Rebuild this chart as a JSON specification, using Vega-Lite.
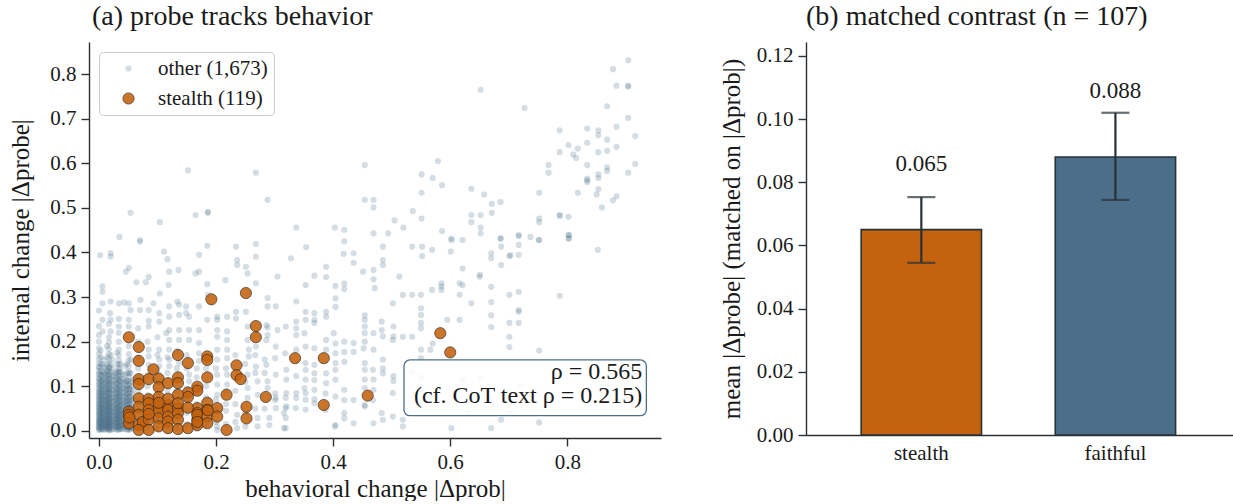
{
  "$schema": "https://vega.github.io/schema/vega-lite/v6.json",
  "background": "white",
  "padding": {"left": 8, "top": 3, "right": 0, "bottom": 0},
  "config": {
    "font": "Liberation Serif",
    "view": {"stroke": null},
    "axis": {"domainColor": "#2b3035", "tickColor": "#2b3035", "labelColor": "#1a1a1a", "titleColor": "#1a1a1a", "labelFontSize": 21, "titleFontSize": 25, "titleFontWeight": "normal", "grid": false, "tickSize": 8, "domainWidth": 1.4, "tickWidth": 1.4, "labelPadding": 5, "labelFont": "Liberation Serif", "titleFont": "Liberation Serif"},
    "title": {"fontSize": 28, "fontWeight": "normal", "anchor": "start", "frame": "group", "color": "#1a1a1a", "font": "Liberation Serif", "offset": 11},
    "concat": {"spacing": 58}
  },
  "resolve": {
    "scale": {"color": "independent", "size": "independent", "opacity": "independent", "strokeWidth": "independent"},
    "legend": {"color": "independent", "size": "independent", "opacity": "independent", "strokeWidth": "independent"}
  },
  "hconcat": [
    {
      "width": 572,
      "height": 396,
      "title": {"text": "(a) probe tracks behavior", "dx": 3},
      "layer": [
        {
          "data": {
            "values": "g,x,y\no,0.904,0.831\no,0.878,0.811\no,0.884,0.774\no,0.904,0.774\no,0.904,0.772\no,0.652,0.765\no,0.868,0.728\no,0.727,0.724\no,0.904,0.702\no,0.884,0.682\no,0.787,0.674\no,0.834,0.678\no,0.853,0.674\no,0.853,0.663\no,0.916,0.661\no,0.868,0.653\no,0.802,0.641\no,0.818,0.633\no,0.834,0.646\no,0.787,0.625\no,0.81,0.62\no,0.815,0.612\no,0.853,0.625\no,0.868,0.628\no,0.884,0.637\no,0.768,0.596\no,0.768,0.579\no,0.834,0.596\no,0.916,0.599\no,0.904,0.579\no,0.868,0.591\no,0.868,0.583\no,0.853,0.575\no,0.853,0.567\no,0.834,0.566\no,0.834,0.558\no,0.834,0.562\no,0.579,0.605\no,0.551,0.575\no,0.57,0.567\no,0.586,0.551\no,0.551,0.534\no,0.636,0.543\no,0.658,0.53\no,0.752,0.534\no,0.818,0.534\no,0.853,0.542\no,0.85,0.53\no,0.884,0.526\no,0.878,0.517\no,0.859,0.501\no,0.671,0.509\no,0.686,0.513\no,0.671,0.489\no,0.536,0.493\no,0.505,0.472\no,0.52,0.456\no,0.551,0.476\no,0.636,0.484\no,0.636,0.468\no,0.652,0.484\no,0.652,0.456\no,0.652,0.443\no,0.752,0.476\no,0.752,0.468\no,0.787,0.484\no,0.787,0.482\no,0.802,0.48\no,0.586,0.448\no,0.602,0.431\no,0.621,0.428\no,0.686,0.431\no,0.717,0.439\no,0.717,0.437\no,0.737,0.435\no,0.752,0.428\no,0.802,0.439\no,0.802,0.431\no,0.152,0.584\no,0.268,0.579\no,0.454,0.596\no,0.288,0.518\no,0.454,0.518\no,0.469,0.518\no,0.469,0.501\no,0.054,0.489\no,0.104,0.468\no,0.165,0.484\no,0.186,0.491\no,0.186,0.489\no,0.337,0.456\no,0.403,0.456\no,0.419,0.451\no,0.469,0.443\no,0.035,0.435\no,0.419,0.425\no,0.494,0.443\no,0.535,0.413\no,0.552,0.413\no,0.552,0.392\no,0.602,0.428\no,0.621,0.364\no,0.621,0.327\no,0.585,0.331\no,0.569,0.316\no,0.55,0.305\no,0.513,0.346\no,0.595,0.249\no,0.57,0.196\no,0.483,0.245\no,0.483,0.226\no,0.502,0.204\no,0.452,0.185\no,0.468,0.137\no,0.468,0.069\no,0.401,0.219\no,0.351,0.219\no,0.318,0.174\no,0.368,0.114\no,0.387,0.084\no,0.301,0.084\no,0.301,0.069\no,0.351,0.096\no,0.368,0.062\no,0.07,0.424\no,0.07,0.428\no,0.02,0.398\no,0.02,0.391\no,0.002,0.394\no,0.111,0.402\no,0.117,0.385\no,0.171,0.395\no,0.185,0.415\no,0.234,0.413\no,0.236,0.383\no,0.236,0.372\no,0.268,0.419\no,0.046,0.357\no,0.051,0.365\no,0.085,0.345\no,0.08,0.333\no,0.064,0.333\no,0.12,0.357\no,0.136,0.361\no,0.165,0.353\no,0.171,0.357\no,0.185,0.329\no,0.254,0.353\no,0.305,0.346\no,0.006,0.324\no,0.006,0.312\no,0.006,0.286\no,0.02,0.29\no,0.034,0.286\no,0.043,0.288\no,0.051,0.286\no,0.054,0.271\no,0.071,0.294\no,0.07,0.271\no,0.085,0.271\no,0.103,0.264\no,0.103,0.245\no,0.12,0.279\no,0.12,0.256\no,0.137,0.283\no,0.137,0.26\no,0.154,0.256\no,0.171,0.279\no,0.185,0.249\no,0.202,0.249\no,0.202,0.256\no,0.219,0.256\no,0.234,0.267\no,0.288,0.298\no,0.288,0.279\no,0.302,0.279\no,0.006,0.249\no,0.006,0.223\no,0.02,0.249\no,0.02,0.223\no,0.034,0.251\no,0.034,0.234\no,0.051,0.249\no,0.051,0.234\no,0.085,0.247\no,0.085,0.234\no,0.12,0.226\no,0.12,0.204\no,0.137,0.226\no,0.137,0.204\no,0.154,0.226\no,0.154,0.204\no,0.171,0.226\no,0.171,0.197\no,0.202,0.226\no,0.202,0.211\no,0.219,0.223\no,0.219,0.204\no,0.254,0.234\no,0.254,0.204\no,0.288,0.232\no,0.288,0.215\no,0.305,0.226\no,0.319,0.234\no,0.302,0.189\no,0.256,0.182\no,0.256,0.167\no,0.219,0.182\no,0.219,0.163\no,0.202,0.182\no,0.202,0.16\no,0.171,0.174\no,0.171,0.157\no,0.12,0.182\no,0.12,0.16\no,0.12,0.145\no,0.103,0.182\no,0.103,0.16\no,0.103,0.145\no,0.085,0.182\no,0.085,0.167\no,0.085,0.148\no,0.137,0.152\no,0.154,0.126\no,0.154,0.111\no,0.202,0.126\no,0.202,0.104\no,0.202,0.081\no,0.219,0.126\no,0.219,0.104\no,0.254,0.126\no,0.254,0.096\no,0.254,0.074\no,0.271,0.111\no,0.271,0.081\no,0.288,0.111\no,0.288,0.096\no,0.302,0.126\no,0.302,0.074\no,0.302,0.051\no,0.319,0.074\no,0.319,0.051\no,0.319,0.029\no,0.319,0.006\no,0.271,0.029\no,0.271,0.01\no,0.291,0.029\no,0.291,0.013\no,0.236,0.036\no,0.236,0.006\no,0.202,0.01\no,0.202,0.002\no,0.119,0.327\no,0.251,0.368\no,0.268,0.391\no,0.268,0.331\no,0.216,0.338\no,0.186,0.305\no,0.134,0.29\no,0.104,0.308\no,0.019,0.264\no,0.093,0.286\no,0.149,0.279\no,0.149,0.264\no,0.234,0.252\no,0.251,0.267\no,0.115,0.219\no,0.268,0.189\no,0.268,0.144\no,0.286,0.148\no,0.301,0.163\no,0.286,0.237\no,0.286,0.204\no,0.328,0.387\no,0.354,0.412\no,0.368,0.348\no,0.388,0.368\no,0.388,0.345\no,0.353,0.327\no,0.337,0.29\no,0.353,0.267\no,0.353,0.249\no,0.368,0.264\no,0.368,0.249\no,0.368,0.242\no,0.388,0.267\no,0.388,0.256\no,0.404,0.325\no,0.404,0.297\no,0.404,0.278\no,0.419,0.33\no,0.419,0.318\no,0.418,0.397\no,0.435,0.398\no,0.435,0.377\no,0.451,0.357\no,0.469,0.361\no,0.469,0.34\no,0.485,0.413\no,0.485,0.383\no,0.485,0.372\no,0.471,0.32\no,0.502,0.286\no,0.519,0.305\no,0.535,0.305\no,0.55,0.275\no,0.55,0.26\no,0.569,0.406\no,0.585,0.324\no,0.585,0.316\no,0.601,0.402\no,0.616,0.331\no,0.616,0.305\no,0.636,0.286\no,0.616,0.249\no,0.65,0.346\no,0.337,0.245\no,0.337,0.23\no,0.337,0.215\no,0.337,0.182\no,0.353,0.189\no,0.368,0.185\no,0.388,0.204\no,0.388,0.182\no,0.404,0.196\no,0.404,0.174\no,0.404,0.152\no,0.419,0.2\no,0.419,0.177\no,0.419,0.155\no,0.435,0.197\no,0.435,0.177\no,0.454,0.259\no,0.454,0.249\no,0.454,0.234\no,0.454,0.219\no,0.454,0.2\no,0.469,0.219\no,0.469,0.182\no,0.485,0.212\no,0.485,0.16\no,0.503,0.234\no,0.503,0.212\no,0.519,0.211\no,0.535,0.211\no,0.55,0.242\no,0.55,0.23\no,0.566,0.182\no,0.353,0.152\no,0.353,0.137\no,0.353,0.115\no,0.368,0.148\no,0.368,0.129\no,0.368,0.092\no,0.368,0.071\no,0.388,0.129\no,0.388,0.107\no,0.404,0.137\no,0.404,0.115\no,0.404,0.077\no,0.419,0.092\no,0.419,0.069\no,0.435,0.069\no,0.454,0.152\no,0.454,0.137\no,0.454,0.115\no,0.454,0.096\no,0.469,0.115\no,0.469,0.092\no,0.485,0.14\no,0.485,0.129\no,0.503,0.123\no,0.503,0.112\no,0.32,0.137\no,0.32,0.115\no,0.32,0.085\no,0.32,0.055\no,0.337,0.123\no,0.337,0.085\no,0.337,0.074\no,0.353,0.085\no,0.353,0.07\no,0.353,0.048\no,0.404,0.013\no,0.435,0.017\no,0.469,0.017\no,0.485,0.025\no,0.519,0.025\no,0.519,0.01\no,0.55,0.069\no,0.502,0.085\no,0.535,0.133\no,0.55,0.182\no,0.55,0.163\no,0.316,0.04\no,0.316,0.006\no,0.336,0.051\no,0.387,0.047\no,0.403,0.01\no,0.419,0.04\no,0.419,0.028\no,0.454,0.058\no,0.454,0.055\no,0.483,0.04\no,0.502,0.032\no,0.67,0.398\no,0.67,0.387\no,0.687,0.413\no,0.687,0.372\no,0.701,0.392\no,0.703,0.394\no,0.717,0.417\no,0.717,0.395\no,0.651,0.35\no,0.852,0.406\no,0.67,0.323\no,0.67,0.289\no,0.67,0.259\no,0.67,0.233\no,0.701,0.305\no,0.717,0.312\no,0.717,0.271\no,0.717,0.267\no,0.701,0.242\no,0.717,0.242\no,0.701,0.211\no,0.701,0.188\no,0.787,0.303\no,0.752,0.18\no,0.687,0.025\no,0.67,0.006\no,0.752,0.019\no,0.686,0.432\no,0.751,0.428\no,0.803,0.439\no,0.803,0.432\no,0.602,0.006\no,0.703,0.04\no,0.669,0.069\no,0.652,0.118\no,0.621,0.114\no,0.6,0.095\no,0.58,0.06\no,0.72,0.1\no,0.77,0.08\no,0.55,0.12\no,0.63,0.04\no,0,0.002\no,0,0.006\no,0,0.01\no,0,0.014\no,0,0.018\no,0,0.022\no,0,0.026\no,0,0.031\no,0,0.036\no,0,0.04\no,0,0.045\no,0,0.05\no,0,0.055\no,0,0.06\no,0,0.066\no,0,0.072\no,0,0.078\no,0,0.084\no,0,0.09\no,0,0.097\no,0,0.104\no,0,0.111\no,0,0.118\no,0,0.126\no,0,0.134\no,0,0.143\no,0,0.152\no,0,0.162\no,0,0.173\no,0,0.185\no,0,0.2\no,0,0.215\no,0,0.235\no,0,0.27\no,0.017,0.001\no,0.017,0.005\no,0.017,0.009\no,0.017,0.013\no,0.017,0.017\no,0.017,0.021\no,0.017,0.025\no,0.017,0.03\no,0.017,0.035\no,0.017,0.039\no,0.017,0.044\no,0.017,0.049\no,0.017,0.054\no,0.017,0.059\no,0.017,0.065\no,0.017,0.071\no,0.017,0.077\no,0.017,0.083\no,0.017,0.089\no,0.017,0.096\no,0.017,0.103\no,0.017,0.11\no,0.017,0.117\no,0.017,0.125\no,0.017,0.133\no,0.017,0.142\no,0.017,0.151\no,0.017,0.161\no,0.017,0.172\no,0.017,0.184\no,0.017,0.198\no,0.017,0.21\no,0.017,0.24\no,0.034,0.003\no,0.034,0.007\no,0.034,0.011\no,0.034,0.015\no,0.034,0.019\no,0.034,0.023\no,0.034,0.028\no,0.034,0.033\no,0.034,0.037\no,0.034,0.042\no,0.034,0.047\no,0.034,0.052\no,0.034,0.057\no,0.034,0.063\no,0.034,0.069\no,0.034,0.075\no,0.034,0.081\no,0.034,0.087\no,0.034,0.094\no,0.034,0.101\no,0.034,0.108\no,0.034,0.115\no,0.034,0.123\no,0.034,0.131\no,0.034,0.14\no,0.034,0.149\no,0.034,0.159\no,0.034,0.17\no,0.034,0.182\no,0.034,0.2\no,0.034,0.22\no,0.051,0.002\no,0.051,0.008\no,0.051,0.014\no,0.051,0.02\no,0.051,0.026\no,0.051,0.032\no,0.051,0.039\no,0.051,0.046\no,0.051,0.053\no,0.051,0.06\no,0.051,0.068\no,0.051,0.076\no,0.051,0.084\no,0.051,0.093\no,0.051,0.102\no,0.051,0.112\no,0.051,0.122\no,0.051,0.133\no,0.051,0.145\no,0.051,0.158\no,0.051,0.172\no,0.051,0.19\no,0.006,0.004\no,0.006,0.012\no,0.006,0.021\no,0.006,0.03\no,0.006,0.04\no,0.006,0.05\no,0.006,0.061\no,0.006,0.073\no,0.006,0.086\no,0.006,0.1\no,0.006,0.115\no,0.006,0.132\no,0.006,0.15\no,0.011,0.008\no,0.011,0.017\no,0.011,0.026\no,0.011,0.035\no,0.011,0.045\no,0.011,0.056\no,0.011,0.068\no,0.011,0.08\no,0.011,0.093\no,0.011,0.108\no,0.011,0.124\no,0.011,0.14\no,0.023,0.004\no,0.023,0.013\no,0.023,0.022\no,0.023,0.032\no,0.023,0.042\no,0.023,0.053\no,0.023,0.065\no,0.023,0.077\no,0.023,0.091\no,0.023,0.106\no,0.023,0.122\no,0.023,0.14\no,0.023,0.16\no,0.028,0.009\no,0.028,0.018\no,0.028,0.027\no,0.028,0.037\no,0.028,0.048\no,0.028,0.059\no,0.028,0.071\no,0.028,0.084\no,0.028,0.098\no,0.028,0.113\no,0.028,0.13\no,0.04,0.005\no,0.04,0.014\no,0.04,0.024\no,0.04,0.034\no,0.04,0.045\no,0.04,0.056\no,0.04,0.068\no,0.04,0.081\no,0.04,0.095\no,0.04,0.11\no,0.04,0.127\no,0.045,0.01\no,0.045,0.02\no,0.045,0.031\no,0.045,0.043\no,0.045,0.055\no,0.045,0.067\no,0.045,0.08\no,0.045,0.094\no,0.045,0.109\no,0.045,0.125\no,0.045,0.145\no,0.058,0.006\no,0.058,0.02\no,0.058,0.035\no,0.058,0.05\no,0.058,0.07\no,0.058,0.09\no,0.058,0.115\no,0.003,0.003\no,0.003,0.011\no,0.003,0.019\no,0.003,0.027\no,0.003,0.035\no,0.003,0.043\no,0.003,0.052\no,0.003,0.061\no,0.003,0.07\no,0.003,0.08\no,0.003,0.09\no,0.003,0.101\no,0.003,0.112\no,0.003,0.124\no,0.003,0.137\no,0.003,0.15\no,0.003,0.165\no,0.003,0.18\no,0.008,0.002\no,0.008,0.009\no,0.008,0.016\no,0.008,0.024\no,0.008,0.032\no,0.008,0.041\no,0.008,0.05\no,0.008,0.059\no,0.008,0.069\no,0.008,0.079\no,0.008,0.09\no,0.008,0.102\no,0.008,0.115\no,0.008,0.129\no,0.008,0.144\no,0.008,0.16\no,0.014,0.004\no,0.014,0.012\no,0.014,0.02\no,0.014,0.028\no,0.014,0.036\no,0.014,0.045\no,0.014,0.054\no,0.014,0.063\no,0.014,0.073\no,0.014,0.084\no,0.014,0.095\no,0.014,0.107\no,0.014,0.12\no,0.014,0.134\no,0.014,0.149\no,0.014,0.165\no,0.014,0.19\no,0.02,0.002\no,0.02,0.01\no,0.02,0.018\no,0.02,0.026\no,0.02,0.034\no,0.02,0.043\no,0.02,0.052\no,0.02,0.062\no,0.02,0.072\no,0.02,0.083\no,0.02,0.094\no,0.02,0.106\no,0.02,0.119\no,0.02,0.133\no,0.02,0.148\no,0.02,0.17\no,0.031,0.002\no,0.031,0.01\no,0.031,0.018\no,0.031,0.026\no,0.031,0.034\no,0.031,0.043\no,0.031,0.052\no,0.031,0.062\no,0.031,0.072\no,0.031,0.083\no,0.031,0.094\no,0.031,0.106\no,0.031,0.119\no,0.031,0.133\no,0.031,0.15\no,0.031,0.175\no,0.037,0.004\no,0.037,0.012\no,0.037,0.02\no,0.037,0.029\no,0.037,0.038\no,0.037,0.047\no,0.037,0.057\no,0.037,0.067\no,0.037,0.078\no,0.037,0.09\no,0.037,0.103\no,0.037,0.117\no,0.037,0.132\no,0.037,0.15\no,0.048,0.003\no,0.048,0.011\no,0.048,0.019\no,0.048,0.028\no,0.048,0.037\no,0.048,0.047\no,0.048,0.058\no,0.048,0.07\no,0.048,0.083\no,0.048,0.097\no,0.048,0.112\no,0.048,0.13\no,0.048,0.15\no,0.054,0.005\no,0.054,0.015\no,0.054,0.026\no,0.054,0.038\no,0.054,0.05\no,0.054,0.063\no,0.054,0.077\no,0.054,0.093\no,0.054,0.11\no,0.054,0.13\no,0.054,0.16\no,0.001,0.004\no,0.001,0.009\no,0.001,0.015\no,0.001,0.021\no,0.001,0.027\no,0.001,0.033\no,0.001,0.04\no,0.001,0.047\no,0.001,0.054\no,0.001,0.061\no,0.001,0.069\no,0.001,0.077\no,0.001,0.086\no,0.001,0.095\no,0.001,0.105\no,0.001,0.116\no,0.001,0.128\no,0.001,0.142\no,0.005,0.005\no,0.005,0.011\no,0.005,0.017\no,0.005,0.023\no,0.005,0.029\no,0.005,0.036\no,0.005,0.043\no,0.005,0.05\no,0.005,0.058\no,0.005,0.066\no,0.005,0.074\no,0.005,0.083\no,0.005,0.092\no,0.005,0.102\no,0.005,0.113\no,0.005,0.125\no,0.01,0.004\no,0.01,0.009\no,0.01,0.015\no,0.01,0.021\no,0.01,0.027\no,0.01,0.033\no,0.01,0.04\no,0.01,0.047\no,0.01,0.054\no,0.01,0.061\no,0.01,0.069\no,0.01,0.077\no,0.01,0.086\no,0.01,0.095\no,0.01,0.105\no,0.01,0.116\no,0.01,0.128\no,0.015,0.005\no,0.015,0.011\no,0.015,0.017\no,0.015,0.023\no,0.015,0.029\no,0.015,0.036\no,0.015,0.043\no,0.015,0.05\no,0.015,0.058\no,0.015,0.066\no,0.015,0.074\no,0.015,0.083\no,0.015,0.092\no,0.015,0.102\no,0.015,0.113\no,0.015,0.125\no,0.015,0.138\no,0.018,0.004\no,0.018,0.009\no,0.018,0.015\no,0.018,0.021\no,0.018,0.027\no,0.018,0.033\no,0.018,0.04\no,0.018,0.047\no,0.018,0.054\no,0.018,0.061\no,0.018,0.069\no,0.018,0.077\no,0.018,0.086\no,0.018,0.095\no,0.018,0.105\no,0.018,0.116\no,0.018,0.128\no,0.018,0.142\no,0.025,0.005\no,0.025,0.011\no,0.025,0.017\no,0.025,0.023\no,0.025,0.029\no,0.025,0.036\no,0.025,0.043\no,0.025,0.05\no,0.025,0.058\no,0.025,0.066\no,0.025,0.074\no,0.025,0.083\no,0.025,0.092\no,0.025,0.102\no,0.025,0.113\no,0.025,0.125\no,0.03,0.004\no,0.03,0.009\no,0.03,0.015\no,0.03,0.021\no,0.03,0.027\no,0.03,0.033\no,0.03,0.04\no,0.03,0.047\no,0.03,0.054\no,0.03,0.061\no,0.03,0.069\no,0.03,0.077\no,0.03,0.086\no,0.03,0.095\no,0.03,0.105\no,0.03,0.116\no,0.03,0.128\no,0.035,0.005\no,0.035,0.011\no,0.035,0.017\no,0.035,0.023\no,0.035,0.029\no,0.035,0.036\no,0.035,0.043\no,0.035,0.05\no,0.035,0.058\no,0.035,0.066\no,0.035,0.074\no,0.035,0.083\no,0.035,0.092\no,0.035,0.102\no,0.035,0.113\no,0.035,0.125\no,0.035,0.138\no,0.042,0.004\no,0.042,0.009\no,0.042,0.015\no,0.042,0.021\no,0.042,0.027\no,0.042,0.033\no,0.042,0.04\no,0.042,0.047\no,0.042,0.054\no,0.042,0.061\no,0.042,0.069\no,0.042,0.077\no,0.042,0.086\no,0.042,0.095\no,0.042,0.105\no,0.042,0.116\no,0.047,0.005\no,0.047,0.011\no,0.047,0.017\no,0.047,0.023\no,0.047,0.029\no,0.047,0.036\no,0.047,0.043\no,0.047,0.05\no,0.047,0.058\no,0.047,0.066\no,0.047,0.074\no,0.047,0.083\no,0.047,0.092\no,0.047,0.102\no,0.047,0.113\no,0.052,0.004\no,0.052,0.009\no,0.052,0.015\no,0.052,0.021\no,0.052,0.027\no,0.052,0.033\no,0.052,0.04\no,0.052,0.047\no,0.052,0.054\no,0.052,0.061\no,0.052,0.069\no,0.052,0.077\no,0.052,0.086\no,0.052,0.095\no,0.052,0.105\no,0.052,0.128\no,0.056,0.008\no,0.056,0.018\no,0.056,0.029\no,0.056,0.041\no,0.056,0.054\no,0.056,0.068\no,0.056,0.083\no,0.056,0.1\no,0.067,0.005\no,0.067,0.025\no,0.067,0.045\no,0.067,0.065\no,0.067,0.09\no,0.067,0.12\no,0.067,0.14\no,0.067,0.165\no,0.067,0.2\no,0.067,0.23\no,0.083,0.01\no,0.083,0.03\no,0.083,0.055\no,0.083,0.08\no,0.083,0.1\no,0.083,0.125\no,0.083,0.2\no,0.1,0.005\no,0.1,0.03\no,0.1,0.06\no,0.1,0.085\no,0.1,0.11\no,0.1,0.13\no,0.1,0.17\no,0.1,0.21\no,0.117,0.012\no,0.117,0.04\no,0.117,0.065\no,0.117,0.09\no,0.117,0.13\no,0.117,0.165\no,0.133,0.006\no,0.133,0.03\no,0.133,0.06\no,0.133,0.09\no,0.133,0.115\no,0.133,0.14\no,0.133,0.18\no,0.15,0.015\no,0.15,0.04\no,0.15,0.07\no,0.15,0.095\no,0.15,0.14\no,0.15,0.17\no,0.167,0.005\no,0.167,0.03\no,0.167,0.06\no,0.167,0.085\no,0.167,0.12\no,0.167,0.14\no,0.183,0.012\no,0.183,0.04\no,0.183,0.075\no,0.183,0.1\no,0.183,0.14\no,0.2,0.02\no,0.2,0.05\no,0.2,0.07\no,0.2,0.14\no,0.217,0.015\no,0.217,0.045\no,0.217,0.06\no,0.217,0.09\no,0.217,0.14\no,0.233,0.02\no,0.233,0.06\no,0.233,0.09\no,0.233,0.17\no,0.25,0.01\no,0.25,0.04\no,0.25,0.11\no,0.25,0.15\no,0.267,0.05\no,0.267,0.13\no,0.267,0.17\no,0.283,0.05\no,0.283,0.13\no,0.283,0.16\ns,0.251,0.309\ns,0.192,0.295\ns,0.268,0.235\ns,0.268,0.21\ns,0.051,0.21\ns,0.068,0.188\ns,0.068,0.157\ns,0.135,0.17\ns,0.152,0.152\ns,0.185,0.167\ns,0.185,0.159\ns,0.093,0.138\ns,0.235,0.147\ns,0.235,0.125\ns,0.242,0.116\ns,0.185,0.12\ns,0.068,0.116\ns,0.068,0.105\ns,0.085,0.116\ns,0.102,0.117\ns,0.102,0.098\ns,0.118,0.107\ns,0.135,0.12\ns,0.135,0.107\ns,0.168,0.099\ns,0.168,0.09\ns,0.152,0.086\ns,0.152,0.076\ns,0.068,0.073\ns,0.085,0.071\ns,0.102,0.076\ns,0.135,0.081\ns,0.218,0.081\ns,0.285,0.076\ns,0.051,0.043\ns,0.051,0.036\ns,0.051,0.017\ns,0.068,0.054\ns,0.068,0.036\ns,0.068,0.013\ns,0.075,0.02\ns,0.085,0.062\ns,0.085,0.047\ns,0.085,0.025\ns,0.068,0.002\ns,0.085,0.002\ns,0.102,0.054\ns,0.102,0.043\ns,0.102,0.028\ns,0.102,0.01\ns,0.118,0.058\ns,0.118,0.047\ns,0.118,0.032\ns,0.118,0.021\ns,0.118,0.072\ns,0.118,0.006\ns,0.135,0.051\ns,0.135,0.04\ns,0.135,0.025\ns,0.135,0.004\ns,0.152,0.006\ns,0.168,0.051\ns,0.168,0.04\ns,0.168,0.025\ns,0.168,0.013\ns,0.168,0.036\ns,0.185,0.063\ns,0.185,0.047\ns,0.185,0.032\ns,0.185,0.017\ns,0.202,0.051\ns,0.202,0.032\ns,0.218,0.002\ns,0.252,0.054\ns,0.252,0.028\ns,0.335,0.163\ns,0.384,0.163\ns,0.384,0.058\ns,0.459,0.079\ns,0.583,0.219\ns,0.6,0.176\ns,0.052,0.03\ns,0.085,0.038\ns,0.102,0.063\ns,0.135,0.062\ns,0.152,0.052\ns,0.168,0.02\ns,0.186,0.046",
            "format": {"type": "csv", "parse": {"x": "number", "y": "number"}}
          },
          "mark": {"type": "point", "filled": true, "stroke": "#3a2a1c", "shape": "circle"},
          "encoding": {
            "x": {"field": "x", "type": "quantitative", "scale": {"domain": [-0.017, 0.96], "nice": false, "zero": false}, "axis": {"values": [0, 0.2, 0.4, 0.6, 0.8], "format": ".1f", "title": "behavioral change |Δprob|"}},
            "y": {"field": "y", "type": "quantitative", "scale": {"domain": [-0.016, 0.872], "nice": false, "zero": false}, "axis": {"values": [0, 0.1, 0.2, 0.3, 0.4, 0.5, 0.6, 0.7, 0.8], "format": ".1f", "title": "internal change |Δprobe|", "titlePadding": 16}},
            "color": {"field": "g", "type": "nominal", "scale": {"domain": ["o", "s"], "range": ["#4C6F89", "#C4620E"]},
              "legend": {"title": null, "orient": "top-left", "offset": 10, "padding": 6, "fillColor": "white", "strokeColor": "#cccccc", "cornerRadius": 4, "labelFontSize": 21, "labelFont": "Liberation Serif", "labelColor": "#1a1a1a", "symbolOffset": 13, "labelOffset": 19, "rowPadding": 8, "symbolStrokeColor": "#3a2a1c", "labelExpr": "datum.label == 'o' ? 'other (1,673)' : 'stealth (119)'"}},
            "size": {"field": "g", "type": "nominal", "scale": {"domain": ["o", "s"], "range": [38, 125]}},
            "opacity": {"field": "g", "type": "nominal", "scale": {"domain": ["o", "s"], "range": [0.24, 0.88]}},
            "strokeWidth": {"field": "g", "type": "nominal", "scale": {"domain": ["o", "s"], "range": [0, 0.8]}}
          }
        },
        {
          "data": {"values": [{}]},
          "mark": {"type": "rect", "fill": "white", "fillOpacity": 0.85, "stroke": "#4C6F89", "strokeWidth": 1.3, "cornerRadius": 6},
          "encoding": {
            "x": {"datum": 0.521, "type": "quantitative"},
            "x2": {"datum": 0.935},
            "y": {"datum": 0.034, "type": "quantitative"},
            "y2": {"datum": 0.159}
          }
        },
        {
          "data": {"values": [{"note": ["ρ = 0.565", "(cf. CoT text ρ = 0.215)"]}]},
          "mark": {"type": "text", "align": "right", "baseline": "middle", "fontSize": 24, "lineHeight": 24, "color": "#1a1a1a", "font": "Liberation Serif"},
          "encoding": {
            "x": {"datum": 0.928, "type": "quantitative"},
            "y": {"datum": 0.131, "type": "quantitative"},
            "text": {"field": "note"}
          }
        }
      ]
    },
    {
      "width": 427,
      "height": 393,
      "title": {"text": "(b) matched contrast (n = 107)"},
      "data": {"values": [
        {"condition": "stealth", "mean": 0.065, "lo": 0.0545, "hi": 0.0753},
        {"condition": "faithful", "mean": 0.088, "lo": 0.0744, "hi": 0.102}
      ]},
      "encoding": {
        "x": {"field": "condition", "type": "nominal", "sort": null, "scale": {"paddingInner": 0.38, "paddingOuter": 0.29, "align": 0.49}, "axis": {"title": null, "labelAngle": 0, "ticks": false, "labelPadding": 7}}
      },
      "layer": [
        {
          "mark": {"type": "bar", "stroke": "#263238", "strokeWidth": 1.6},
          "encoding": {
            "y": {"field": "mean", "type": "quantitative", "scale": {"domain": [0, 0.1244], "nice": false}, "axis": {"values": [0, 0.02, 0.04, 0.06, 0.08, 0.1, 0.12], "format": ".2f", "title": "mean |Δprobe| (matched on |Δprob|)", "titlePadding": 12}},
            "color": {"field": "condition", "type": "nominal", "scale": {"domain": ["stealth", "faithful"], "range": ["#C4620E", "#4C6F89"]}, "legend": null}
          }
        },
        {
          "mark": {"type": "rule", "color": "#263238", "strokeWidth": 2.2},
          "encoding": {"y": {"field": "lo", "type": "quantitative"}, "y2": {"field": "hi"}}
        },
        {
          "mark": {"type": "tick", "color": "#263238", "thickness": 2.2, "size": 28},
          "encoding": {"y": {"field": "lo", "type": "quantitative"}}
        },
        {
          "mark": {"type": "tick", "color": "#263238", "thickness": 2.2, "size": 28},
          "encoding": {"y": {"field": "hi", "type": "quantitative"}}
        },
        {
          "mark": {"type": "text", "baseline": "middle", "fontSize": 23, "dy": -66, "color": "#1a1a1a", "font": "Liberation Serif"},
          "encoding": {"y": {"field": "mean", "type": "quantitative"}, "text": {"field": "mean", "type": "quantitative", "format": ".3f"}}
        }
      ]
    }
  ]
}
